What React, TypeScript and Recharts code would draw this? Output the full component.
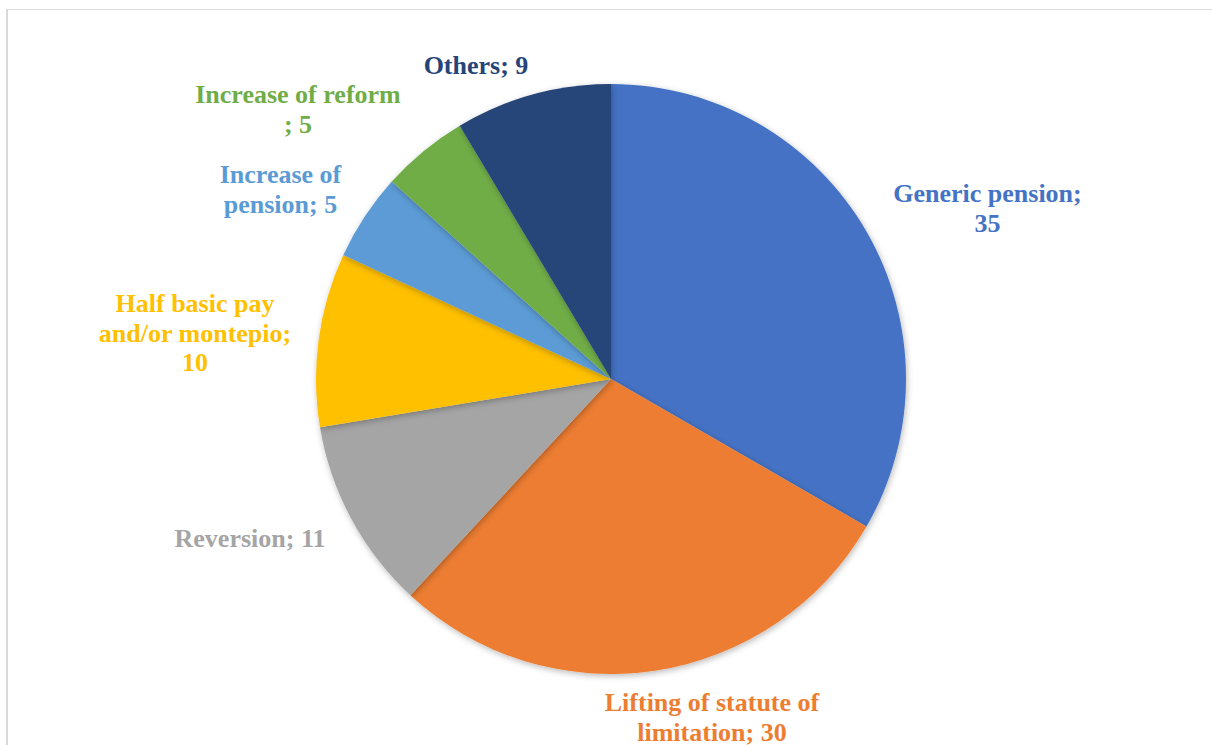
import React from "react";
import { PieChart, Pie, Cell } from "recharts";

const categories = [
  "Generic pension",
  "Lifting of statute of limitation",
  "Reversion",
  "Half basic pay and/or montepio",
  "Increase of pension",
  "Increase of reform",
  "Others",
];
const values = [35, 30, 11, 10, 5, 5, 9];
const labelLines = [
  ["Generic pension;", "35"],
  ["Lifting of statute of", "limitation; 30"],
  ["Reversion; 11"],
  ["Half basic pay", "and/or montepio;", "10"],
  ["Increase of", "pension; 5"],
  ["Increase of reform", "; 5"],
  ["Others; 9"],
];

const colors = ["#4472C4", "#ED7D31", "#A5A5A5", "#FFC000", "#5B9BD5", "#70AD47", "#264478"];
// label block placement relative to pie centre: [dx of centre, dy of first baseline]
const labelOffsets: [number, number][] = [
  [376.5, -177],
  [101, 332],
  [-361, 168],
  [-416, -67],
  [-330.5, -196],
  [-313, -276],
  [-135, -305],
];
const LINE_PITCH = 29.5;

const data = categories.map((name, i) => ({ name, value: values[i] }));

const renderLabel = (props: any) => {
  const { cx, cy, index } = props;
  const [dx, dy] = labelOffsets[index];
  const lines = labelLines[index];
  return (
    <text
      key={`lbl-${index}`}
      x={cx + dx}
      y={cy + dy}
      textAnchor="middle"
      fill={colors[index]}
      fontFamily="Liberation Serif, Times New Roman, serif"
      fontWeight={700}
      fontSize={26}
    >
      {lines.map((l, j) => (
        <tspan key={j} x={cx + dx} dy={j === 0 ? 0 : LINE_PITCH}>
          {l}
        </tspan>
      ))}
    </text>
  );
};

export default function App() {
  return (
    <div style={{ position: "absolute", left: 0, top: 0, width: 1212, height: 745, overflow: "hidden", background: "#fff" }}>
      <div
        style={{
          position: "absolute",
          left: 6,
          top: 9,
          width: 1240,
          height: 780,
          borderLeft: "2px solid #d9d9d9",
          borderTop: "1px solid #d9d9d9",
          boxSizing: "border-box",
        }}
      />
      <div style={{ position: "absolute", left: 0, top: 0 }}>
        <PieChart width={1212} height={745} margin={{ top: 0, right: 0, bottom: 0, left: 0 }}>
          <defs>
            <filter id="pieShadow" x="-10%" y="-10%" width="120%" height="120%">
              <feDropShadow dx="1" dy="2" stdDeviation="3" floodColor="#000" floodOpacity="0.28" />
            </filter>
          </defs>
          <Pie
            data={data}
            dataKey="value"
            nameKey="name"
            cx={611}
            cy={379}
            outerRadius={295}
            startAngle={90}
            endAngle={-270}
            stroke="none"
            label={renderLabel}
            labelLine={false}
            isAnimationActive={false}
            style={{ filter: "url(#pieShadow)" }}
          >
            {data.map((d, i) => (
              <Cell key={d.name} fill={colors[i]} stroke="none" />
            ))}
          </Pie>
        </PieChart>
      </div>
    </div>
  );
}
